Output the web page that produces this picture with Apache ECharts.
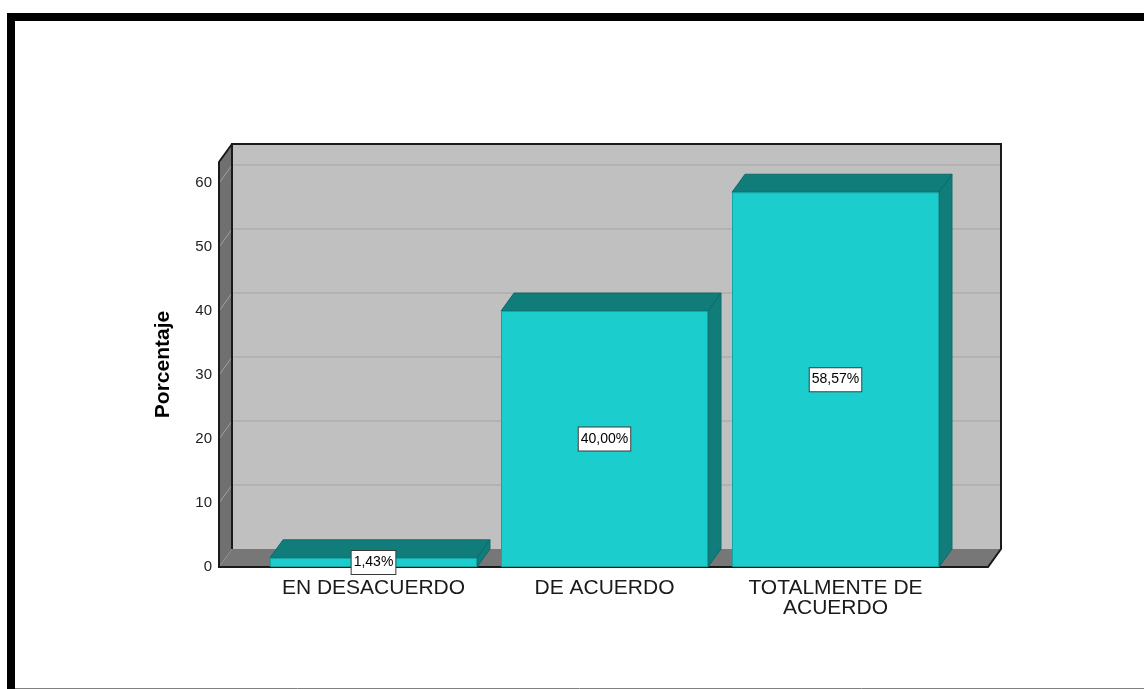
<!DOCTYPE html>
<html>
<head>
<meta charset="utf-8">
<script src="https://cdn.jsdelivr.net/npm/echarts@6/dist/echarts.min.js"></script>
<style>
  html, body { margin: 0; padding: 0; background: #ffffff; }
  #chart { width: 1144px; height: 689px; }
</style>
</head>
<body>
<div id="chart"></div>
<script>
// ---- data ----
const CATEGORIES = ['EN DESACUERDO', 'DE ACUERDO', 'TOTALMENTE DE\nACUERDO'];
const PERCENTAGES = [1.43, 40.00, 58.57];
const Y_TICKS = [0, 10, 20, 30, 40, 50, 60];
const Y_AXIS_TITLE = 'Porcentaje';

// ---- style constants ----
const DX = 13, DY = 18;            // 3D depth offset
const WALL_LEFT_PAD = 39, WALL_RIGHT_PAD = 37;
const BAR_FRACTION = 0.896;
const FONT = '"Liberation Sans", Arial, sans-serif';

const chart = echarts.init(document.getElementById('chart'), null, { renderer: 'canvas' });

function fmtPct(v) { return v.toFixed(2).replace('.', ',') + '%'; }

const option = {
  backgroundColor: '#ffffff',
  animation: false,
  graphic: [
    { type: 'rect', shape: { x: 7, y: 13, width: 1137, height: 8 }, style: { fill: '#000' }, z: 10 },
    { type: 'rect', shape: { x: 7, y: 13, width: 8, height: 676 }, style: { fill: '#000' }, z: 10 },
    { type: 'line', shape: { x1: 15, y1: 688.5, x2: 1144, y2: 688.5 }, style: { stroke: '#808080', lineWidth: 1 }, z: 10 }
  ],
  grid: { left: 258, right: 193, top: 162, bottom: 122 },
  xAxis: {
    type: 'category',
    data: CATEGORIES,
    axisLine: { show: false },
    axisTick: { show: false },
    axisLabel: {
      margin: 11, fontSize: 21, lineHeight: 20, color: '#1a1a1a', fontFamily: FONT,
      interval: 0
    }
  },
  yAxis: {
    type: 'value',
    min: Y_TICKS[0],
    max: 63.3,
    interval: 10,
    name: Y_AXIS_TITLE,
    nameLocation: 'middle',
    nameGap: 84,
    nameRotate: 90,
    nameTextStyle: { fontSize: 21, fontWeight: 'bold', color: '#000', fontFamily: FONT },
    axisLine: { show: false },
    axisTick: { show: false },
    splitLine: { show: false },
    axisLabel: {
      margin: 46, fontSize: 15, color: '#222', fontFamily: FONT,
      showMaxLabel: false
    }
  },
  series: [
    {
      type: 'custom',
      z: 1,
      silent: true,
      data: [[0, 0]],
      renderItem: function (params, api) {
        const cs = params.coordSys;
        const fl = cs.x - WALL_LEFT_PAD;            // front-left x
        const fr = cs.x + cs.width + WALL_RIGHT_PAD; // front-right x
        const ft = cs.y;                              // front top y
        const fb = cs.y + cs.height;                  // front bottom y
        const children = [];
        children.push({ type: 'rect', shape: { x: fl + DX, y: ft - DY, width: fr - fl, height: fb - ft },
          style: { fill: '#c0c0c0', stroke: null } });
        Y_TICKS.forEach(function (t) {
          if (t === 0) return;
          const y = api.coord([0, t])[1];
          children.push({ type: 'line', shape: { x1: fl + DX, y1: y - DY, x2: fr + DX, y2: y - DY },
            style: { stroke: '#b2b2b2', lineWidth: 2 } });
        });
        children.push({ type: 'polygon', shape: { points: [[fl, ft], [fl + DX, ft - DY], [fl + DX, fb - DY], [fl, fb]] },
          style: { fill: '#707070' } });
        Y_TICKS.forEach(function (t) {
          if (t === 0) return;
          const y = api.coord([0, t])[1];
          children.push({ type: 'line', shape: { x1: fl, y1: y, x2: fl + DX, y2: y - DY },
            style: { stroke: '#a0a0a0', lineWidth: 1 } });
        });
        children.push({ type: 'polygon', shape: { points: [[fl, fb], [fl + DX, fb - DY], [fr + DX, fb - DY], [fr, fb]] },
          style: { fill: '#777777' } });
        children.push({ type: 'polyline', shape: { points: [[fl + DX, fb - DY], [fl + DX, ft - DY], [fr + DX, ft - DY], [fr + DX, fb - DY], [fr, fb], [fl, fb], [fl, ft], [fl + DX, ft - DY]] },
          style: { stroke: '#1a1a1a', lineWidth: 2, fill: null } });
        return { type: 'group', children: children };
      }
    },
    {
      type: 'custom',
      z: 2,
      silent: true,
      data: PERCENTAGES.map(function (v, i) { return [i, v]; }),
      encode: { x: 0, y: 1 },
      renderItem: function (params, api) {
        const i = api.value(0), v = api.value(1);
        const top = api.coord([i, v]);
        const base = api.coord([i, 0]);
        const w = api.size([1, 0])[0] * BAR_FRACTION;
        const x0 = top[0] - w / 2, x1 = top[0] + w / 2;
        const yt = top[1], yb = base[1];
        return {
          type: 'group',
          children: [
            { type: 'polygon', shape: { points: [[x0, yt], [x0 + DX, yt - DY], [x1 + DX, yt - DY], [x1, yt]] },
              style: { fill: '#107d7a', stroke: '#0c6b69', lineWidth: 1 } },
            { type: 'polygon', shape: { points: [[x1, yt], [x1 + DX, yt - DY], [x1 + DX, yb - DY], [x1, yb]] },
              style: { fill: '#107d7a', stroke: '#0c6b69', lineWidth: 1 } }
          ]
        };
      }
    },
    {
      type: 'bar',
      z: 3,
      data: PERCENTAGES,
      barWidth: (BAR_FRACTION * 100) + '%',
      itemStyle: { color: '#1ccdcd', borderColor: '#16a5a5', borderWidth: 1 },
      label: {
        show: true,
        position: 'inside',
        formatter: function (p) { return fmtPct(p.value); },
        backgroundColor: '#ffffff',
        borderColor: '#3a3a3a',
        borderWidth: 1,
        padding: [5, 2, 4, 2],
        color: '#000',
        fontSize: 14,
        fontFamily: FONT
      }
    }
  ]
};

chart.setOption(option);
</script>
</body>
</html>
